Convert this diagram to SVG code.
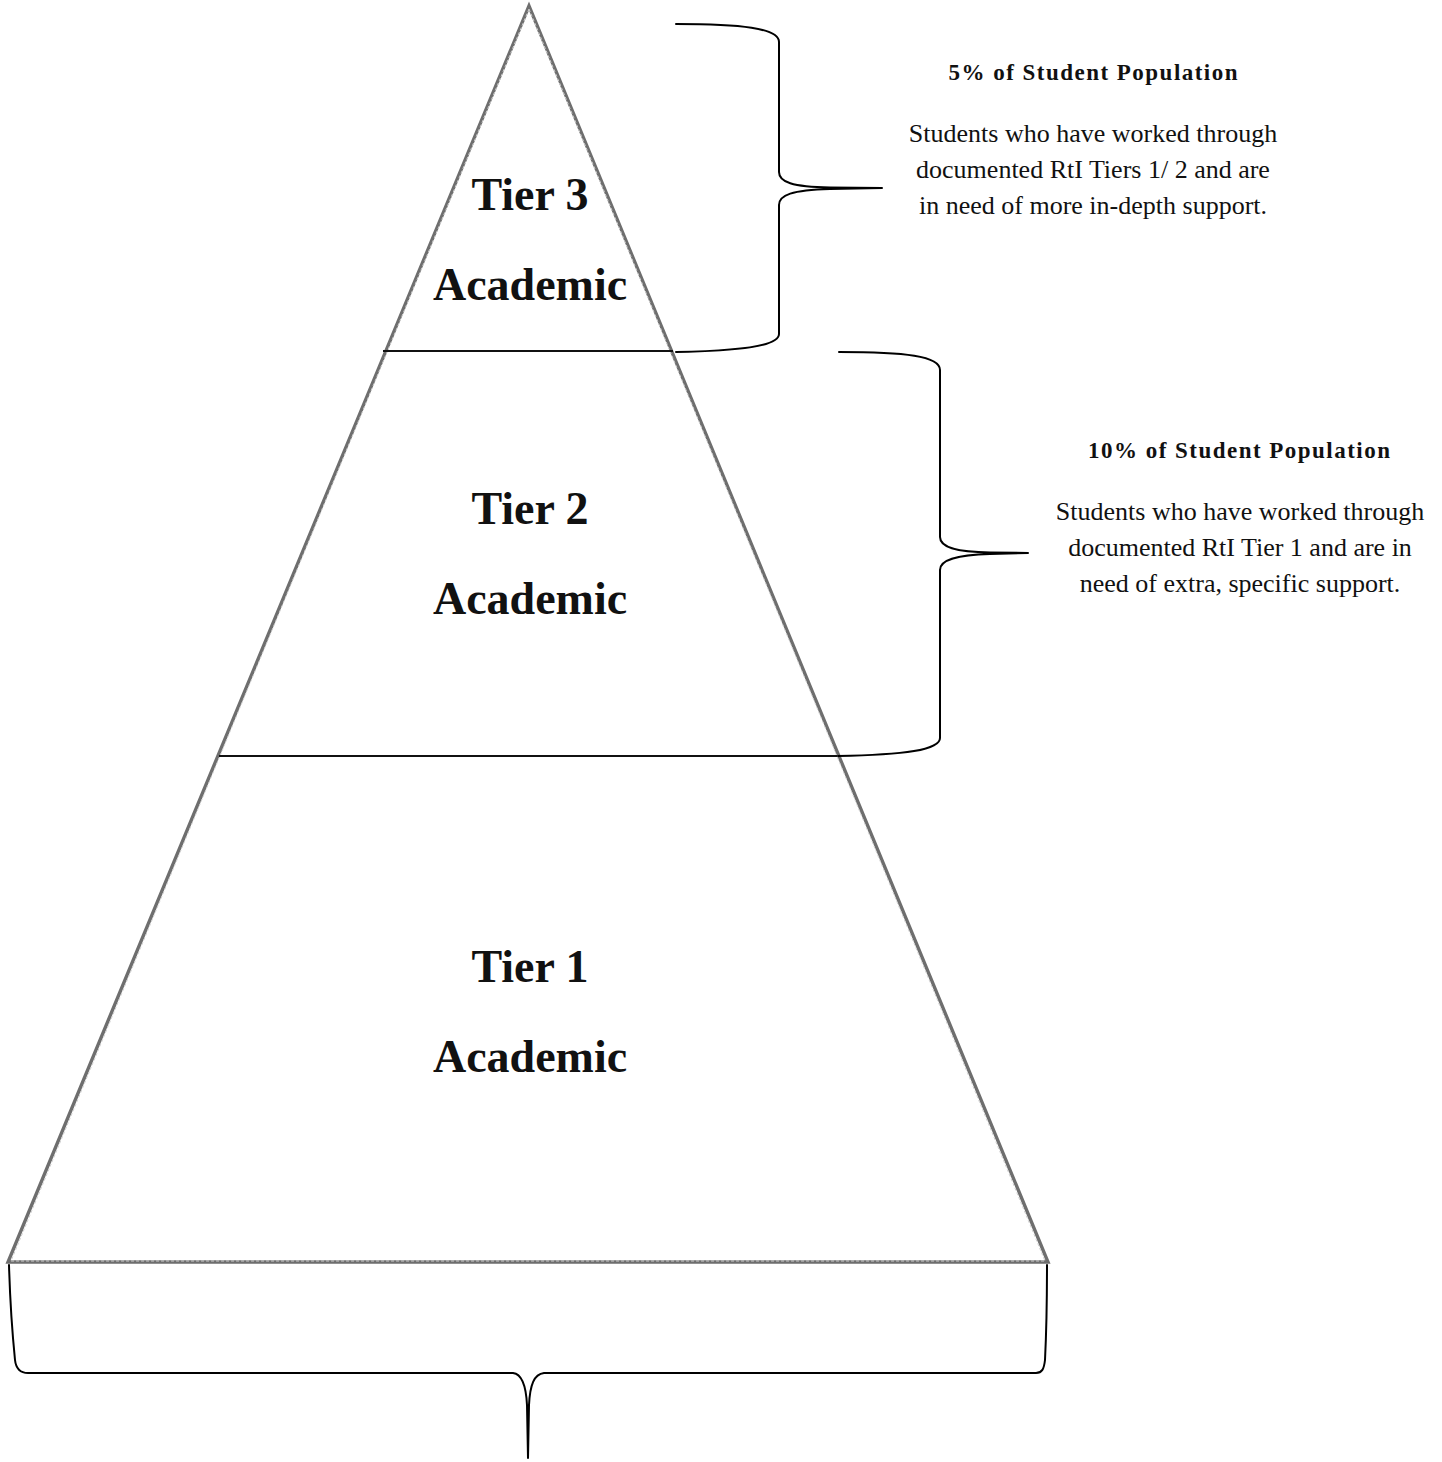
<svg xmlns="http://www.w3.org/2000/svg" width="1442" height="1462" viewBox="0 0 1442 1462">
<style>
.tri{fill:none;stroke:#6e6e6e;stroke-width:3.4;stroke-linejoin:miter}
.tri2{fill:none;stroke:#cfcfcf;stroke-width:1;stroke-dasharray:3 2}
.div{stroke:#111;stroke-width:2.2;fill:none}
.brace{fill:none;stroke:#000;stroke-width:2;stroke-linejoin:round;stroke-linecap:round}
.tier{font-family:"Liberation Serif","Times New Roman",serif;font-weight:bold;font-size:46px;fill:#111;text-anchor:middle}
.head{font-family:"Liberation Serif","Times New Roman",serif;font-weight:bold;font-size:23px;fill:#111;text-anchor:middle}
.body{font-family:"Liberation Serif","Times New Roman",serif;font-size:26px;fill:#111;text-anchor:middle}
</style>
<rect x="0" y="0" width="1442" height="1462" fill="#fff"/>
<g id="pyramid">
<polygon class="tri" points="529,6 8,1262 1048,1262"/>
<polygon class="tri2" points="529,9 11,1261 1045,1261"/>
</g>
<g id="tier3">
<line class="div" x1="383" y1="351" x2="673" y2="351"/>
<text class="tier" x="530" y="210">Tier 3</text>
<text class="tier" x="530" y="300">Academic</text>
</g>
<g id="tier2">
<line class="div" x1="219" y1="756" x2="837" y2="756"/>
<text class="tier" x="530" y="524">Tier 2</text>
<text class="tier" x="530" y="614">Academic</text>
</g>
<g id="tier1">
<text class="tier" x="530" y="982">Tier 1</text>
<text class="tier" x="530" y="1072">Academic</text>
</g>
<g id="connectors">
<path class="brace" d="M676,24 C740,24 779,28 779,42 L779,172 C779,182 792,187 830,187.5 L882,188 L830,189 C792,190 779,195 779,205 L779,334 C779,346 740,351 676,352"/>
<path class="brace" d="M839,352 C905,352 940,356 940,370 L940,537 C940,547 955,552 990,552.5 L1028,553 L990,554 C955,555 940,560 940,570 L940,738 C940,750 905,755 838,756"/>
<path class="brace" d="M9,1265 C10,1300 13,1340 15,1360 C16,1369 20,1373 28,1373 L513,1373 C522,1374 526,1385 527,1405 L528,1458 L529,1405 C530,1385 534,1374 544,1373 L1036,1373 C1042,1373 1044,1369 1045,1360 C1046,1340 1047,1300 1047,1265"/>
</g>
<g id="label-tier3">
<text class="head" x="1093" y="80" textLength="289" lengthAdjust="spacing">5% of Student Population</text>
<text class="body" x="1093" y="142">Students who have worked through</text>
<text class="body" x="1093" y="178">documented RtI Tiers 1/ 2 and are</text>
<text class="body" x="1093" y="214">in need of more in-depth support.</text>
</g>
<g id="label-tier2">
<text class="head" x="1239" y="458" textLength="302" lengthAdjust="spacing">10% of Student Population</text>
<text class="body" x="1240" y="520">Students who have worked through</text>
<text class="body" x="1240" y="556">documented RtI Tier 1 and are in</text>
<text class="body" x="1240" y="592">need of extra, specific support.</text>
</g>
</svg>
